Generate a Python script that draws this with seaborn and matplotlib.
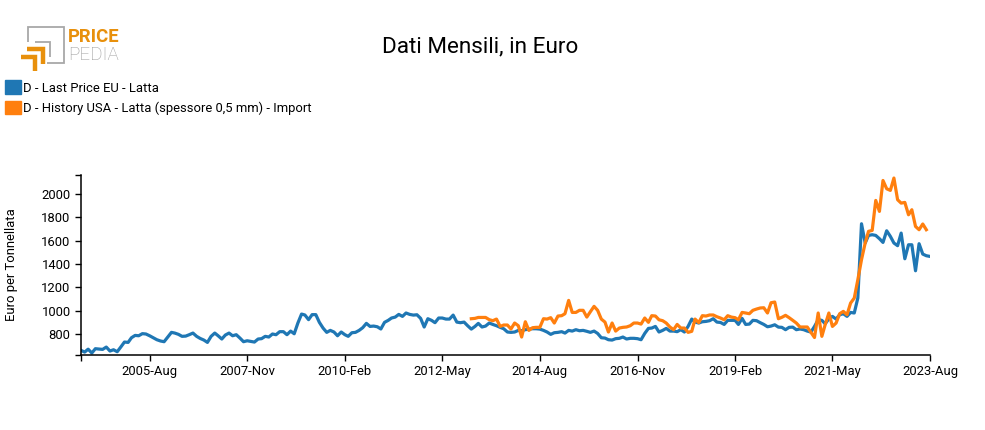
import matplotlib
matplotlib.use("Agg")
import matplotlib.pyplot as plt
from matplotlib.lines import Line2D
from matplotlib.patches import Patch
import pandas as pd
import seaborn as sns

# Monthly values
last_price_eu = [
    660, 645, 670, 637, 674, 671, 668, 688, 654, 665, 648, 688, 731, 728, 768, 788, 785, 803, 800, 785,
    768, 751, 740, 734, 774, 814, 808, 797, 780, 782, 794, 808, 780, 762, 748, 728, 780, 808, 785, 757,
    791, 808, 785, 794, 765, 734, 742, 737, 731, 757, 760, 780, 774, 800, 794, 820, 820, 794, 825, 802,
    894, 971, 963, 923, 966, 966, 900, 851, 814, 831, 817, 785, 817, 794, 780, 811, 814, 831, 854, 891,
    865, 868, 862, 843, 900, 917, 937, 945, 968, 951, 980, 968, 962, 965, 934, 860, 931, 917, 897, 937,
    937, 928, 928, 962, 902, 897, 902, 871, 842, 865, 891, 860, 868, 894, 882, 871, 857, 845, 817, 814,
    817, 831, 828, 837, 842, 845, 845, 842, 831, 817, 797, 811, 814, 820, 808, 831, 825, 837, 828, 831,
    823, 814, 825, 805, 768, 765, 751, 748, 760, 763, 774, 757, 763, 763, 760, 751, 805, 848, 851, 865,
    817, 831, 848, 825, 825, 820, 837, 817, 865, 928, 902, 894, 905, 908, 914, 931, 902, 899, 882, 917,
    917, 917, 882, 934, 882, 885, 917, 914, 897, 882, 862, 868, 879, 859, 857, 837, 857, 859, 837, 843,
    837, 825, 817, 865, 922, 917, 888, 930, 951, 928, 965, 974, 951, 985, 980, 1108, 1745, 1580, 1645, 1651,
    1645, 1617, 1585, 1685, 1637, 1580, 1557, 1665, 1445, 1565, 1565, 1342, 1574, 1485, 1471, 1465,
]
history_usa = [
    931, 934, 942, 942, 942, 923, 914, 928, 865, 877, 877, 843, 894, 871, 774, 905, 831, 854, 857, 857,
    931, 928, 940, 894, 954, 957, 974, 1088, 985, 985, 1003, 1003, 945, 991, 1037, 1003, 928, 902, 817, 894,
    825, 851, 857, 860, 871, 894, 894, 885, 937, 900, 957, 954, 922, 914, 894, 860, 837, 882, 851, 851,
    814, 823, 928, 897, 957, 954, 963, 963, 948, 937, 922, 957, 945, 940, 922, 985, 980, 974, 1003, 1014,
    1023, 1025, 980, 1068, 1074, 931, 943, 960, 940, 917, 894, 860, 860, 860, 814, 770, 980, 780, 880, 980,
    865, 894, 974, 994, 965, 1065, 1108, 1265, 1437, 1580, 1680, 1688, 1945, 1851, 2116, 2045, 2031, 2137, 1951,
    1922, 1928, 1822, 1865, 1722, 1694, 1743, 1694,
]
series_names = ["D - Last Price EU - Latta", "D - History USA - Latta (spessore 0,5 mm) - Import"]
series_colors = ["#1f77b4", "#ff7f0e"]
y_ticks = [800, 1000, 1200, 1400, 1600, 1800, 2000]
x_tick_dates = ["2005-08", "2007-11", "2010-02", "2012-05", "2014-08", "2016-11", "2019-02", "2021-05", "2023-08"]

plt.rcParams["font.family"] = ["Roboto", "DejaVu Sans"]

df = pd.concat([
    pd.DataFrame({"date": pd.date_range("2004-01-01", periods=len(last_price_eu), freq="MS"),
                  "value": last_price_eu, "series": series_names[0]}),
    pd.DataFrame({"date": pd.date_range("2013-01-01", periods=len(history_usa), freq="MS"),
                  "value": history_usa, "series": series_names[1]}),
])

fig = plt.figure(figsize=(9.85, 4.3), dpi=100)
ax = fig.add_axes([81 / 985, 1 - 355 / 430, (930 - 81) / 985, 180 / 430])

sns.lineplot(data=df, x="date", y="value", hue="series", palette=series_colors,
             estimator=None, linewidth=2.3, legend=False, ax=ax)

ymin, ymax = 620, 2163
xmin, xmax = pd.Timestamp("2004-01-01"), pd.Timestamp("2023-08-01")
ax.set_xlim(xmin, xmax)
ax.set_ylim(ymin, ymax)
sns.despine(ax=ax)
for side in ["left", "bottom"]:
    ax.spines[side].set_linewidth(1.1)

# end ticks of the axes have no label
x_dates = [xmin] + [pd.Timestamp(d + "-01") for d in x_tick_dates]
ax.set_xticks(x_dates)
ax.set_xticklabels([""] + [d.strftime("%Y-%b") for d in x_dates[1:]])
ax.set_yticks([ymin] + y_ticks + [ymax])
ax.set_yticklabels([""] + [str(v) for v in y_ticks] + [""])
ax.tick_params(axis="both", length=4.5, width=1, labelsize=9.4, pad=3)
ax.set_xlabel("")
ax.set_ylabel("Euro per Tonnellata", fontsize=9.4)
ax.yaxis.set_label_coords(-63 / 849, 0.5)

fig.text(480 / 985, 1 - 47 / 430, "Dati Mensili, in Euro", fontsize=16.2, ha="center", va="center")

handles = [Patch(facecolor=c, edgecolor=c) for c in series_colors]
fig.legend(handles, series_names, loc="upper left", bbox_to_anchor=(1 / 985, 1 - 76.5 / 430), frameon=False,
           fontsize=9.4, handlelength=1.22, handleheight=1.22, handletextpad=0.18,
           labelspacing=0.47, borderpad=0.3, borderaxespad=0)

# logo, drawn in pixel coordinates
logo = fig.add_axes([0, 0, 1, 1], facecolor="none")
logo.set_xlim(0, 985)
logo.set_ylim(430, 0)
logo.axis("off")
for xs, ys, col, lw in [
    ([28, 28, 64, 64, 47], [42, 26.5, 26.5, 62.5, 62.5], "#a8a8a8", 1.3),
    ([35, 50, 50], [42, 42, 57], "#a8a8a8", 1.3),
    ([27, 43, 43], [49, 49, 64], "#e8900c", 3.2),
    ([21, 35, 35], [57, 57, 71], "#e8900c", 3.2),
]:
    logo.add_line(Line2D(xs, ys, color=col, linewidth=lw, solid_joinstyle="miter", solid_capstyle="butt"))
logo.text(68, 42, "PRICE", color="#e8900c", fontsize=13.3, fontweight="bold", va="baseline", ha="left",
          family=["Roboto"])
logo.text(68, 60, "PEDIA", color="#999999", fontsize=13.5, fontweight="light", va="baseline", ha="left",
          family=["Roboto"])

fig.savefig("out.png", dpi=100)
